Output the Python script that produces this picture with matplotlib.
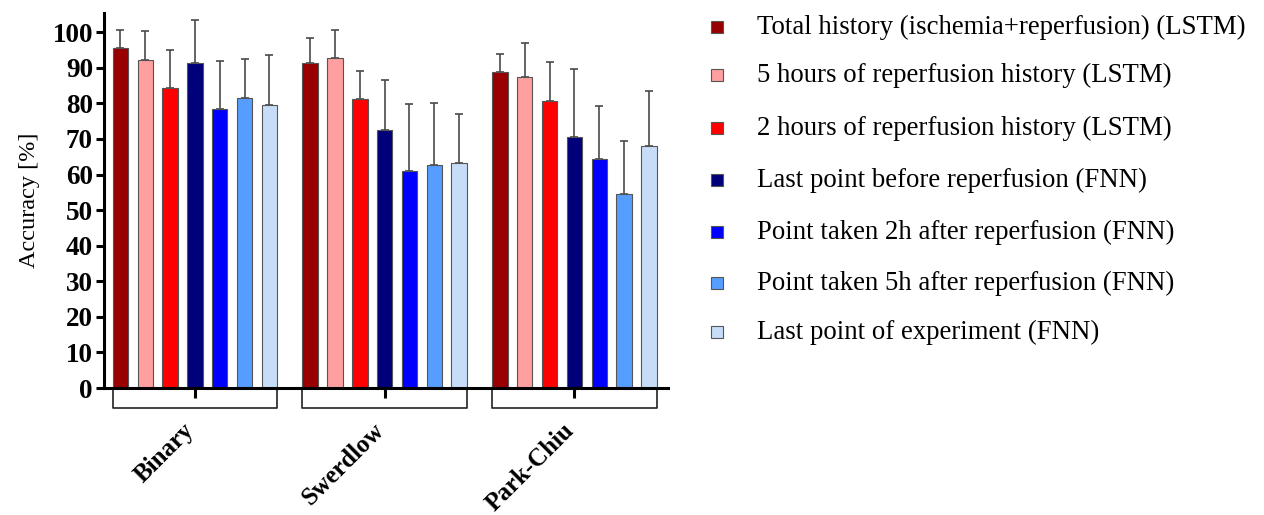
import numpy as np
import matplotlib
matplotlib.use("Agg")
import matplotlib.pyplot as plt
from matplotlib.patches import Rectangle
from matplotlib.transforms import ScaledTranslation

plt.rcParams['font.family'] = ['Liberation Serif', 'DejaVu Serif']

# Datos
categories = ['Binary', 'Swerdlow', 'Park-Chiu']
series = ['Total history (ischemia+reperfusion) (LSTM)',
          '5 hours of reperfusion history (LSTM)',
          '2 hours of reperfusion history (LSTM)',
          'Last point before reperfusion (FNN)',
          'Point taken 2h after reperfusion (FNN)',
          'Point taken 5h after reperfusion (FNN)',
          'Last point of experiment (FNN)']
# una fila por serie, una columna por categoria
means = [[95.6, 91.3, 88.8],
         [92.3, 92.7, 87.3],
         [84.4, 81.2, 80.7],
         [91.4, 72.4, 70.6],
         [78.4, 60.9, 64.4],
         [81.6, 62.8, 54.5],
         [79.5, 63.3, 68.0]]
errors = [[5.0, 7.0, 5.2],
          [8.1, 7.9, 9.8],
          [10.5, 7.8, 10.9],
          [12.1, 14.2, 19.2],
          [13.5, 18.9, 15.0],
          [10.9, 17.4, 14.8],
          [14.2, 13.6, 15.4]]
yticks = list(range(0, 101, 10))

colors = ['#990000', '#ff9f9f', '#ff0000', '#00007a', '#0000ff', '#559eff', '#c7ddf7']

fig = plt.figure(figsize=(12.64, 5.15), dpi=100)
ax = fig.add_axes([0.0823, 0.2466, 0.4462, 0.7287])

group_gap = 7.64
width = 0.62
centers = np.arange(len(categories)) * group_gap

for i in range(len(series)):
    x = centers + (i - 3)
    ax.bar(x, means[i], width, color=colors[i], edgecolor='#555555', linewidth=0.8, zorder=2)
    ax.errorbar(x, means[i], yerr=[np.zeros(len(categories)), errors[i]], fmt='none',
                ecolor='#4a4a4a', elinewidth=1.2, capsize=3, capthick=1.2, zorder=1)

# corchetes bajo cada grupo
for c in centers:
    x0, x1 = c - 3 - width / 2, c + 3 + width / 2
    ax.plot([x0, x0, x1, x1], [0, -5.6, -5.6, 0], color='#222222', lw=1.2, clip_on=False)

ax.set_xlim(-3.66, 19.05)
ax.set_ylim(0, 105.5)
ax.set_yticks(yticks)
ax.set_yticklabels([str(t) for t in yticks], fontsize=19.5, fontweight='bold')
ax.set_xticks(centers)
ax.set_xticklabels(categories, rotation=45, ha='right', fontsize=18, fontweight='bold')
ax.tick_params(axis='y', length=6, width=2.2, pad=2)
ax.tick_params(axis='x', length=7, width=2.2, pad=15)
shift = ScaledTranslation(4 / 100, 0, fig.dpi_scale_trans)
for lbl in ax.get_xticklabels():
    lbl.set_transform(lbl.get_transform() + shift)

for s in ['top', 'right']:
    ax.spines[s].set_visible(False)
ax.spines['left'].set_linewidth(2.2)
ax.spines['bottom'].set_linewidth(2.2)

ax.set_ylabel('Accuracy [%]', fontsize=17.5)
ax.yaxis.set_label_coords(-0.113, 0.5)

# Leyenda manual
W, H = 1264, 515
row_y = [27, 75, 128, 180, 232, 283, 332]
for i, lab in enumerate(series):
    yc = 1 - row_y[i] / H
    fig.patches.append(Rectangle((711 / W, yc - 6 / H), 12 / W, 12 / H, transform=fig.transFigure,
                                 facecolor=colors[i], edgecolor='#555555', linewidth=0.8))
    fig.text(757 / W, yc, lab, fontsize=19.3, va='center', ha='left')

fig.savefig('out.png', dpi=100)
